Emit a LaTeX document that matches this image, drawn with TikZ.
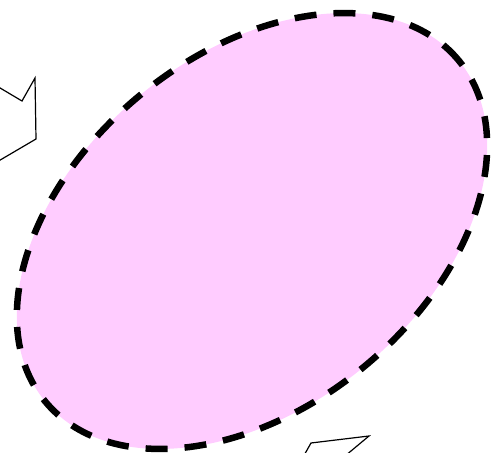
\documentclass[tikz,border=0pt]{standalone}
\definecolor{blobpink}{RGB}{255,204,255}
\tikzset{
  blob/.style={fill=blobpink, draw=black, line width=6.5pt, dash pattern=on 22pt off 17pt},
  shard/.style={draw=black, line width=1.2pt, fill=white, line join=miter}
}
\begin{document}
\begin{tikzpicture}[x=1pt,y=1pt]
\useasboundingbox (0,0) rectangle (491,453);
\clip (0,0) rectangle (491,453);
% left chevron fragment
\draw[shard] (-10,371) -- (22,352) -- (35,375) -- (36,314) -- (-10,287);
% bottom fragment
\draw[shard] (302,-6) -- (311,10) -- (369,17) -- (345,-3);
% dashed ellipse
\draw[blob, rotate around={39.5:(252,222)}] (252,222) ellipse [x radius=268, y radius=176];
\end{tikzpicture}
\end{document}
